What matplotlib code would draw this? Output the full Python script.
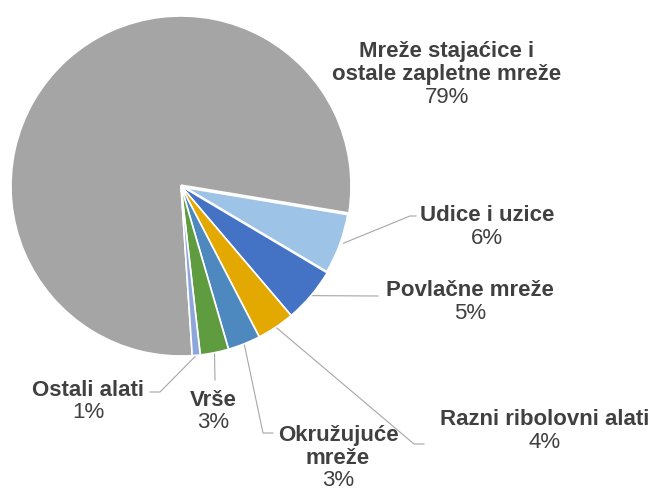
import numpy as np
import matplotlib
matplotlib.use('Agg')
import matplotlib.pyplot as plt

plt.rcParams['font.family'] = ['Liberation Sans', 'DejaVu Sans']

# udio po vrsti alata (%)
names = ['Mreže stajaćice i\nostale zapletne mreže', 'Udice i uzice', 'Povlačne mreže',
         'Razni ribolovni alati', 'Okružujuće\nmreže', 'Vrše', 'Ostali alati']
values = [78.6, 5.9, 5.25, 3.6, 3.1, 2.7, 0.75]
colors = ['#A5A5A5', '#9DC3E6', '#4472C4', '#E3A900', '#4D89BF', '#5E9C3F', '#8EA6DA']

# pixel layout of the reference picture
CX, CY, R = 181, 186, 170


def px(x, y):
    return (x - CX) / R, (CY - y) / R


# centre of the percentage line of each label
label_pos = [(447, 97), (487, 238), (470, 313), (545, 442), (338, 481), (213, 423), (88, 413)]
# leader line bends (pixels), first point is the wedge anchor
leader_pts = [[], [(410, 216), (416, 216)], [(378, 296)], [(414, 444), (424, 444)],
              [(263, 433), (273, 433)], [(215, 380)], [(160, 392), (150, 392)]]

fig = plt.figure(figsize=(6.61, 4.92), dpi=100)
ax = fig.add_axes([0, 0, 1, 1])

wedges, _ = ax.pie(values, colors=colors, startangle=273.8, counterclock=False, radius=1,
                   wedgeprops=dict(edgecolor='white', linewidth=1.2))
wedges[1].set_linewidth(2.5)

for w, name, v, pos, pts in zip(wedges, names, values, label_pos, leader_pts):
    if pts:
        mid = np.deg2rad((w.theta1 + w.theta2) / 2)
        xs = [np.cos(mid)] + [px(*p)[0] for p in pts]
        ys = [np.sin(mid)] + [px(*p)[1] for p in pts]
        ax.plot(xs, ys, color='#A6A6A6', lw=0.8, zorder=0)
    x, y = px(*pos)
    ax.text(x, y, f'{round(v)}%', ha='center', va='center', fontsize=16, color='#404040')
    ax.annotate(name, (x, y), xytext=(0, 12), textcoords='offset pixels', ha='center',
                va='bottom', fontsize=16, fontweight='bold', color='#404040', linespacing=1.15)

ax.set_xlim(px(0, 0)[0], px(661, 0)[0])
ax.set_ylim(px(0, 492)[1], px(0, 0)[1])
ax.set_aspect('equal')
ax.axis('off')

fig.savefig('out.png', dpi=100)
